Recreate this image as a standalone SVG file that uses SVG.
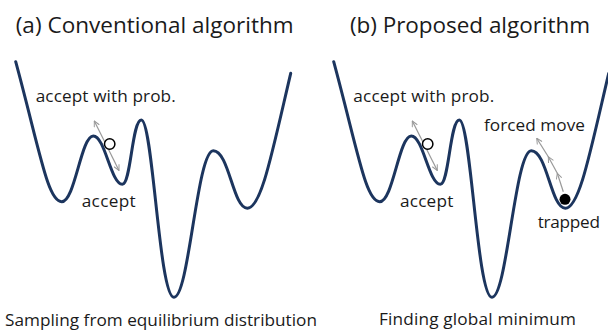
<svg xmlns="http://www.w3.org/2000/svg" width="608" height="331" viewBox="0 0 608 331">
<style>
text{font-family:"Open Sans","Noto Sans","Liberation Sans",sans-serif;fill:#1a1a1a}
.title{font-size:22.5px}
.lbl{font-size:17.2px}
.cap{font-size:17.2px}
.curve{fill:none;stroke:#1c355e;stroke-width:3;stroke-linecap:round;stroke-linejoin:round}
.arr{fill:none;stroke:#999;stroke-width:1.2}
</style>
<defs>
<marker id="ah" viewBox="0 0 10 10" refX="9" refY="5" markerWidth="7" markerHeight="7" orient="auto-start-reverse" markerUnits="userSpaceOnUse">
<path d="M1,1 L9,5 L1,9" fill="none" stroke="#999" stroke-width="1.4"/>
</marker>
<path id="landscape" class="curve" d="M15.7,61.7 C40,151.7 47.7,201.7 61.7,201.7 C75,201.7 81,136 93.3,136 C105,136 111,184.3 122.3,184.3 C131,184.3 132,120 141.3,120 C153,120 159,297.3 174,297.3 C189,297.3 197,150.7 213.3,150.7 C229,150.7 233,208.3 247.3,208.3 C261.3,208.3 272,153 290.7,73.3"/>
</defs>
<g id="panel-a">
<text class="title" x="15.7" y="33" textLength="278">(a) Conventional algorithm</text>
<use href="#landscape"/>
<text class="cap" x="5" y="326" textLength="312">Sampling from equilibrium distribution</text>
</g>
<g id="panel-b">
<text class="title" x="350" y="33" textLength="240">(b) Proposed algorithm</text>
<use href="#landscape" transform="translate(318,0)"/>
<text class="cap" x="379" y="325" textLength="197">Finding global minimum</text>
</g>
<g id="connectors">
<line class="arr" x1="94.3" y1="121" x2="119" y2="170.5" marker-start="url(#ah)" marker-end="url(#ah)"/>
<line class="arr" x1="412.3" y1="121" x2="437.3" y2="170.5" marker-start="url(#ah)" marker-end="url(#ah)"/>
<line class="arr" x1="563.3" y1="191.7" x2="557.3" y2="173.3" marker-end="url(#ah)"/>
<line class="arr" x1="557.3" y1="173.3" x2="548.3" y2="156.7" marker-end="url(#ah)"/>
<line class="arr" x1="548.3" y1="156.7" x2="536.7" y2="138.3" marker-end="url(#ah)"/>
</g>
<g id="node-state-a">
<circle cx="109.7" cy="144" r="5.2" fill="#fff" stroke="#000" stroke-width="1.5"/>
</g>
<g id="node-state-b">
<circle cx="427.7" cy="144" r="5.2" fill="#fff" stroke="#000" stroke-width="1.5"/>
</g>
<g id="node-trapped">
<circle cx="565" cy="199.3" r="5.5" fill="#000"/>
</g>
<g id="labels">
<text class="lbl" x="35.7" y="102" textLength="140">accept with prob.</text>
<text class="lbl" x="81.7" y="207" textLength="54">accept</text>
<text class="lbl" x="353.3" y="102" textLength="141">accept with prob.</text>
<text class="lbl" x="400" y="207" textLength="53.3">accept</text>
<text class="lbl" x="484" y="131" textLength="101">forced move</text>
<text class="lbl" x="537.7" y="228.3" textLength="62.3">trapped</text>
</g>
</svg>
